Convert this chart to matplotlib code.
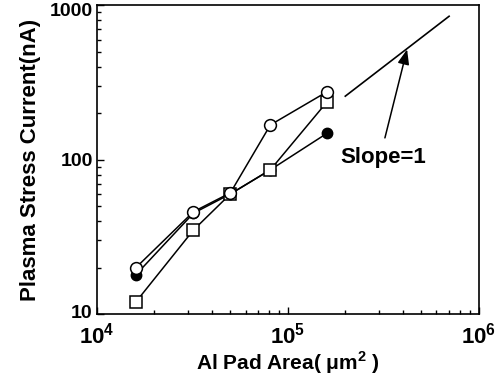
import matplotlib
matplotlib.use("Agg")
import matplotlib.pyplot as plt
import matplotlib.transforms as mtransforms

plt.rcParams["font.family"] = ["Liberation Sans", "DejaVu Sans"]
plt.rcParams["font.weight"] = "bold"
plt.rcParams["mathtext.fontset"] = "custom"
plt.rcParams["mathtext.rm"] = "Liberation Sans:bold"
plt.rcParams["mathtext.bf"] = "Liberation Sans:bold"

# Data
area = [1.6e4, 3.2e4, 5.0e4, 8.1e4, 1.6e5]
open_circle = [20, 46, 61, 168, 275]
filled_circle = [18, 45, 60, 86, 148]
open_square = [12, 35, 60, 86, 236]

slope_x = [2.0e5, 7.0e5]
slope_y = [258, 850]

xticks = [1e4, 1e5, 1e6]
xticklabels = [r"$\mathbf{10^{4}}$", r"$\mathbf{10^{5}}$", r"$\mathbf{10^{6}}$"]
yticks = [10, 100, 1000]
yticklabels = ["10", "100", "1000"]

fig = plt.figure(figsize=(4.95, 3.83), dpi=100)
ax = fig.add_axes([0.196, 0.180, 0.771, 0.806])
ax.set_xscale("log")
ax.set_yscale("log")
ax.set_xlim(1e4, 1e6)
ax.set_ylim(10, 1000)

ax.plot(area, filled_circle, "-o", color="black", mfc="black", ms=7.5, lw=1.1, zorder=2)
ax.plot(area, open_square, "-s", color="black", mfc="white", ms=8, mew=1.1, lw=1.1, zorder=3)
ax.plot(area, open_circle, "-o", color="black", mfc="white", ms=8.5, mew=1.1, lw=1.1, zorder=4)
ax.plot(slope_x, slope_y, "-", color="black", lw=1.2)

ax.annotate("", xy=(4.25e5, 540), xytext=(3.2e5, 133),
            arrowprops=dict(arrowstyle="-|>,head_length=0.9,head_width=0.35",
                            color="black", lw=1.1))
ax.text(1.88e5, 103, "Slope=1", fontsize=16, fontweight="bold", va="center", ha="left")

ax.set_xticks(xticks)
ax.set_xticklabels(xticklabels, fontsize=16)
ax.set_yticks(yticks)
ax.set_yticklabels(yticklabels, fontsize=14, fontweight="bold")
ax.tick_params(which="both", direction="in", top=False, right=False)
ax.tick_params(which="major", length=5, width=1)
ax.tick_params(which="minor", length=3, width=1)
ax.tick_params(axis="x", pad=6)
ax.tick_params(axis="y", pad=3)
for s in ax.spines.values():
    s.set_linewidth(1.2)

# nudge the end labels so they stay inside the figure and clear of the x labels
ylabs = ax.get_yticklabels()
ylabs[-1].set_transform(ylabs[-1].get_transform() +
                        mtransforms.ScaledTranslation(0, -3 / 72, fig.dpi_scale_trans))
ylabs[0].set_transform(ylabs[0].get_transform() +
                       mtransforms.ScaledTranslation(0, 2 / 72, fig.dpi_scale_trans))

ax.set_xlabel(r"Al Pad Area( $\mathbf{\mu}$m$^{\mathbf{2}}$ )", fontsize=15, fontweight="bold", labelpad=1)
ax.set_ylabel("Plasma Stress Current(nA)", fontsize=16, fontweight="bold", labelpad=6)

fig.savefig("out.png", dpi=100)
